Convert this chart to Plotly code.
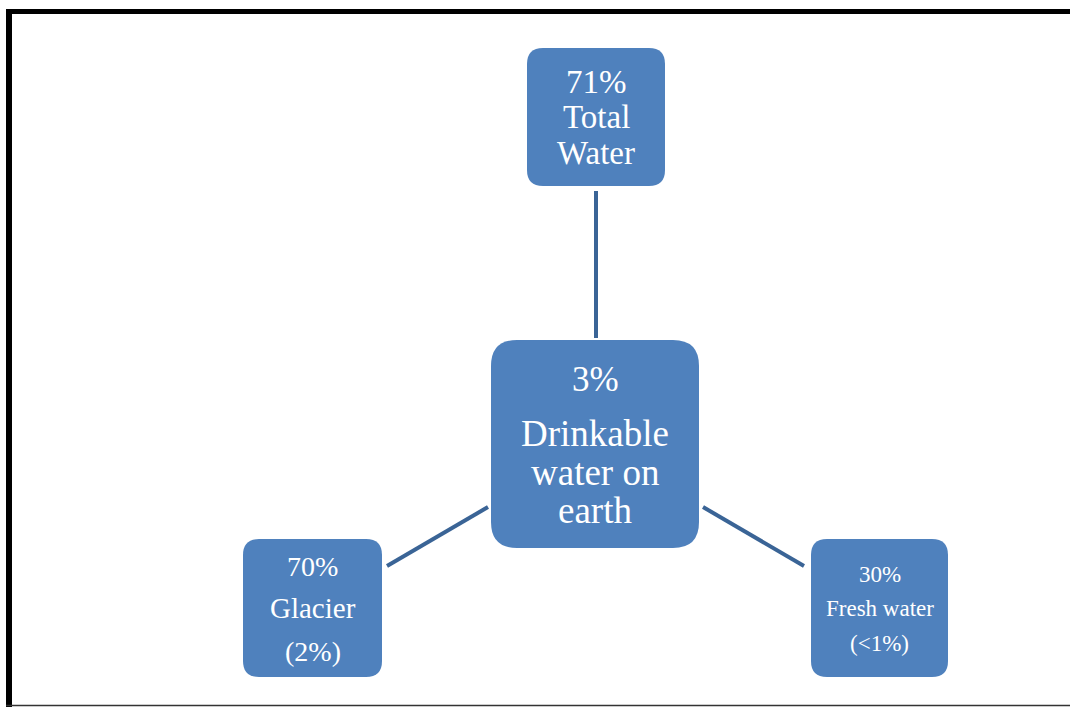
import plotly.graph_objects as go

# ---- data ----
node_names = ["Total Water", "Drinkable water on earth", "Glacier", "Fresh water"]
node_lines = [
    ["71%", "Total", "Water"],
    ["3%", "Drinkable", "water on", "earth"],
    ["70%", "Glacier", "(2%)"],
    ["30%", "Fresh water", "(<1%)"],
]
links = [(1, 0), (1, 2), (1, 3)]

# ---- layout (pixel-space geometry) ----
W, H = 1070, 707
boxes = [  # x0, y0, x1, y1, radius
    (527, 48, 665, 186, 16),
    (491, 340, 699, 548, 26),
    (243, 539, 382, 677, 16),
    (811, 539, 948, 677, 16),
]
text_y = [
    [82, 117, 153],
    [379, 433, 472, 510],
    [566, 608, 651],
    [574, 608, 643],
]
text_size = [
    [33, 33, 33],
    [35, 37, 37, 37],
    [28, 29, 28],
    [23, 23, 23],
]
link_geom = [
    ((596, 338), (596, 191)),
    ((488, 507), (387, 566)),
    ((703, 507), (804, 566)),
]

BOX = "#4F81BD"
LINK = "#3A6496"
FONT = "Liberation Serif"

def rrect(x0, y0, x1, y1, r):
    return (f"M {x0+r},{y0} L {x1-r},{y0} Q {x1},{y0} {x1},{y0+r} "
            f"L {x1},{y1-r} Q {x1},{y1} {x1-r},{y1} L {x0+r},{y1} "
            f"Q {x0},{y1} {x0},{y1-r} L {x0},{y0+r} Q {x0},{y0} {x0+r},{y0} Z")

fig = go.Figure()
shapes = []
for (a, b), ((xa, ya), (xb, yb)) in zip(links, link_geom):
    shapes.append(dict(type="line", x0=xa, y0=ya, x1=xb, y1=yb,
                       line=dict(color=LINK, width=4), layer="below"))
for (x0, y0, x1, y1, r) in boxes:
    shapes.append(dict(type="path", path=rrect(x0, y0, x1, y1, r),
                       fillcolor=BOX, line=dict(width=0), layer="above"))
# frame
shapes.append(dict(type="line", x0=6, y0=11.5, x1=W, y1=11.5, line=dict(color="black", width=5)))
shapes.append(dict(type="line", x0=9, y0=9, x1=9, y1=H, line=dict(color="black", width=6)))
shapes.append(dict(type="line", x0=6, y0=705.5, x1=W, y1=705.5, line=dict(color="#333333", width=1.5)))

annotations = []
for i, lines in enumerate(node_lines):
    x0, y0, x1, y1, r = boxes[i]
    cx = (x0 + x1) / 2
    for j, t in enumerate(lines):
        annotations.append(dict(x=cx, y=text_y[i][j], text=t, showarrow=False,
                                xanchor="center", yanchor="middle",
                                font=dict(family=FONT, size=text_size[i][j], color="white")))

fig.update_layout(
    width=W, height=H,
    margin=dict(l=0, r=0, t=0, b=0),
    paper_bgcolor="white", plot_bgcolor="white",
    xaxis=dict(range=[0, W], visible=False, fixedrange=True),
    yaxis=dict(range=[H, 0], visible=False, fixedrange=True),
    shapes=shapes, annotations=annotations, showlegend=False,
)
fig.write_html("out.html", config={"displayModeBar": False},
               post_script="document.body.style.margin='0';document.body.style.overflow='hidden';")
